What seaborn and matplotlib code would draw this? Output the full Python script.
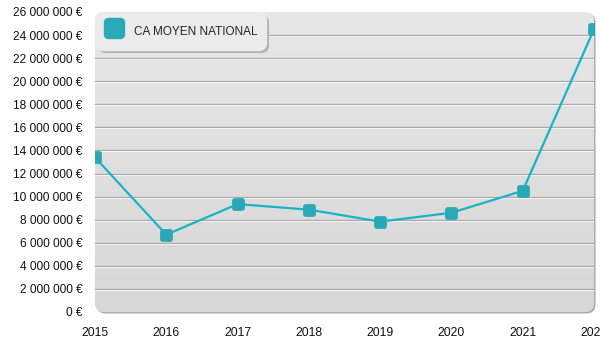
import numpy as np
import pandas as pd
import matplotlib
matplotlib.use("Agg")
import matplotlib.pyplot as plt
import matplotlib.transforms as mtransforms
from matplotlib.patches import FancyBboxPatch, BoxStyle
from matplotlib.lines import Line2D
from matplotlib.colors import LinearSegmentedColormap
from matplotlib.ticker import FuncFormatter, MultipleLocator
import seaborn as sns

# Data
years = [2015, 2016, 2017, 2018, 2019, 2020, 2021, 2022]
ca_moyen = [13_400_000, 6_700_000, 9_350_000, 8_870_000, 7_830_000, 8_600_000, 10_500_000, 24_500_000]
series_label = "CA MOYEN NATIONAL"

sns.set_style("white")
plt.rcParams["font.family"] = ["Liberation Sans", "DejaVu Sans"]

df = pd.DataFrame({"annee": years, "ca": ca_moyen})

LINE_COLOR = "#18b4c6"
MARK_COLOR = "#29a9b5"

fig = plt.figure(figsize=(6, 3.5), dpi=100)
W, H = 499, 300
ax = fig.add_axes([95 / 600, 38 / 350, W / 600, H / 350])
ax.patch.set_visible(False)
for s in ax.spines.values():
    s.set_visible(False)

# Rounded panel with drop edge and vertical gradient
asp = W / H
r = 9 / W
style = f"round,pad=0,rounding_size={r}"
shift = mtransforms.ScaledTranslation(1.5 / 100, -1.5 / 100, fig.dpi_scale_trans)
edge = FancyBboxPatch((0, 0), 1, 1, boxstyle=style, mutation_aspect=asp,
                      transform=ax.transAxes + shift, fc="#ababab", ec="none",
                      zorder=0, clip_on=False)
ax.add_patch(edge)
panel = FancyBboxPatch((0, 0), 1, 1, boxstyle=style, mutation_aspect=asp,
                       transform=ax.transAxes, fc="#e0e0e0", ec="none",
                       zorder=0.2, clip_on=False)
ax.add_patch(panel)
grad = np.linspace(1, 0, 256).reshape(-1, 1)
cmap = LinearSegmentedColormap.from_list("panel", ["#d7d7d7", "#e7e7e7"])
im = ax.imshow(grad, extent=(0, 1, 0, 1), transform=ax.transAxes, aspect="auto",
               cmap=cmap, zorder=0.3, interpolation="bilinear")
im.set_clip_path(panel)

# Horizontal grid lines with a light line underneath
ymax = 26_000_000
step = 2_000_000
under = ax.get_yaxis_transform() + mtransforms.ScaledTranslation(0, -1 / 100, fig.dpi_scale_trans)
for v in range(step, ymax, step):
    ax.axhline(v, color="#a4a4a4", lw=0.9, zorder=1)
    ax.plot([0, 1], [v, v], transform=under, color="#f4f4f4", lw=0.8, zorder=1)

# Rounded square marker
marker_path = BoxStyle("round", pad=0, rounding_size=0.22)(-0.5, -0.5, 1, 1, 1.0)

sns.lineplot(data=df, x="annee", y="ca", ax=ax, color=LINE_COLOR, lw=1.6,
             marker=marker_path, markersize=8.8, markerfacecolor=MARK_COLOR,
             markeredgecolor=MARK_COLOR, markeredgewidth=0.5, zorder=3, legend=False)

ax.set_xlim(years[0], years[-1])
ax.set_ylim(0, ymax)
ax.set_xticks(years)
ax.yaxis.set_major_locator(MultipleLocator(step))
ax.yaxis.set_major_formatter(FuncFormatter(lambda v, p: f"{v:,.0f}".replace(",", " ") + " €"))
ax.tick_params(axis="both", length=0, labelcolor="#111111")
ax.tick_params(axis="y", pad=9, labelsize=8.6)
ax.tick_params(axis="x", pad=10.5, labelsize=8.8)
ax.set_xlabel("")
ax.set_ylabel("")

# Legend
handle = Line2D([], [], ls="none", marker=marker_path, markersize=14.4,
                markerfacecolor=MARK_COLOR, markeredgecolor=MARK_COLOR)
leg = ax.legend([handle], [series_label], loc="upper left", bbox_to_anchor=(0, 1),
                borderaxespad=0, fontsize=8.5, handlelength=1.75, handleheight=2.3,
                handletextpad=0.8, borderpad=0.75, frameon=True, fancybox=True,
                shadow={"facecolor": "#b3b3b3", "alpha": 1, "edgecolor": "none"},
                framealpha=1, facecolor="#ebebeb", edgecolor="#ebebeb")
leg.get_frame().set_boxstyle("round", pad=0, rounding_size=0.7)
leg.set_zorder(5)

fig.savefig("out.png", dpi=100)
